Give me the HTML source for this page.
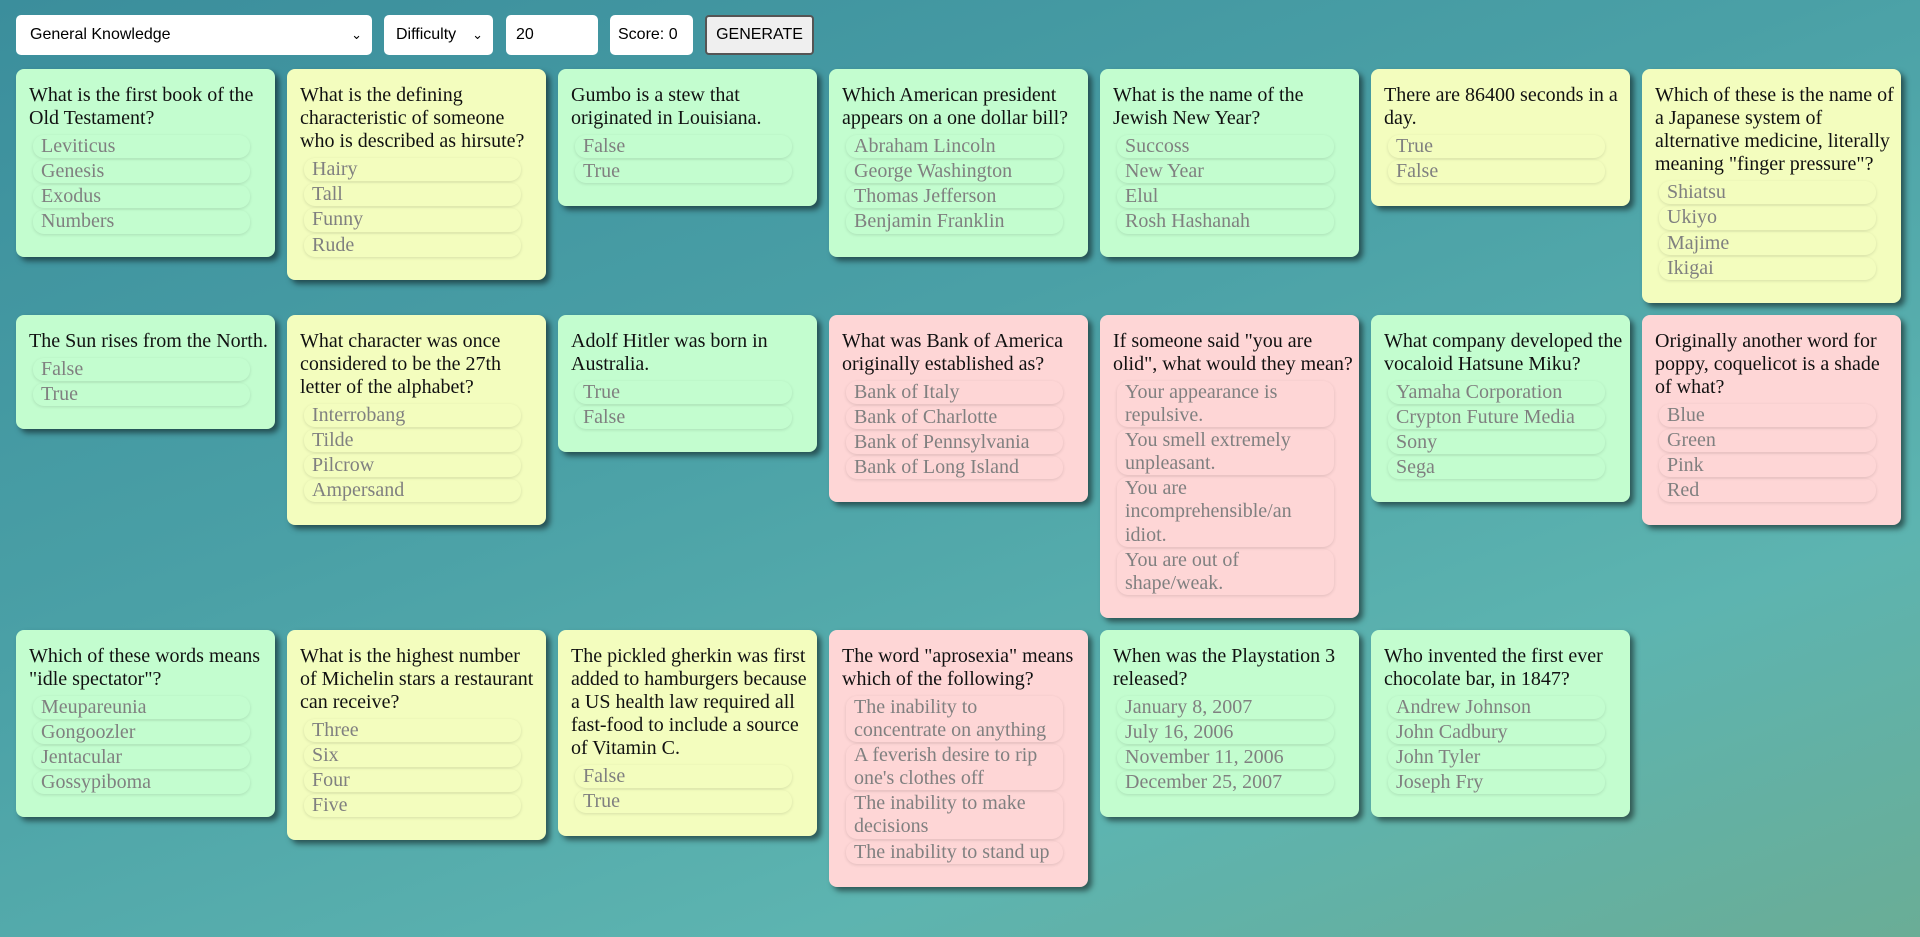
<!DOCTYPE html>
<html><head><meta charset="utf-8"><style>
html,body{margin:0;padding:0}
body{width:1920px;height:937px;overflow:hidden;background:linear-gradient(160deg,#3b8e9c 0%,#4aa0a6 40%,#5db4b0 75%,#6aad96 100%);font-family:"Liberation Serif",serif;}
.c{position:absolute;top:15px;height:40px;background:#fff;border-radius:5px;font-family:"Liberation Sans",sans-serif;font-size:16px;line-height:40px;box-sizing:border-box;padding-left:14px;color:#000}
.c .ar{position:absolute;right:10px;top:0;font-size:13px}
.btn{background:#efefef;border:2px solid #555;border-radius:4px;padding:0;text-align:center;line-height:36px}
.grid{position:absolute;left:16px;top:69px;width:1900px;display:flex;flex-wrap:wrap;align-items:flex-start;column-gap:12px;row-gap:12px}
.card{width:259px;box-sizing:border-box;padding:15px 4px 21px 13px;border-radius:8px;box-shadow:4px 4px 6px rgba(0,0,0,.5);font-size:20px;line-height:23.1px;color:#111}
.g{background:#c3fdcf}.y{background:#f3fdbe}.p{background:#fed6d6}
.q{margin-bottom:5px}
.a{width:217px;margin-left:4px;margin-bottom:2px;box-sizing:border-box;padding-left:8px;padding-right:4px;border-radius:11px;box-shadow:0 1px 3px rgba(0,0,0,.12);color:#808080}
</style></head><body>
<div class="c" style="left:16px;width:356px">General Knowledge<span class="ar">&#8964;</span></div>
<div class="c" style="left:384px;width:109px;padding-left:12px">Difficulty<span class="ar">&#8964;</span></div>
<div class="c" style="left:506px;width:92px;padding-left:10px">20</div>
<div class="c" style="left:610px;width:83px;padding-left:8px">Score: 0</div>
<div class="c btn" style="left:705px;width:109px">GENERATE</div>
<div class="grid">
<div class="card g"><div class="q">What is the first book of the Old Testament?</div><div class="a">Leviticus</div><div class="a">Genesis</div><div class="a">Exodus</div><div class="a">Numbers</div></div>
<div class="card y"><div class="q">What is the defining characteristic of someone who is described as hirsute?</div><div class="a">Hairy</div><div class="a">Tall</div><div class="a">Funny</div><div class="a">Rude</div></div>
<div class="card g"><div class="q">Gumbo is a stew that originated in Louisiana.</div><div class="a">False</div><div class="a">True</div></div>
<div class="card g"><div class="q">Which American president appears on a one dollar bill?</div><div class="a">Abraham Lincoln</div><div class="a">George Washington</div><div class="a">Thomas Jefferson</div><div class="a">Benjamin Franklin</div></div>
<div class="card g"><div class="q">What is the name of the Jewish New Year?</div><div class="a">Succoss</div><div class="a">New Year</div><div class="a">Elul</div><div class="a">Rosh Hashanah</div></div>
<div class="card y"><div class="q">There are 86400 seconds in a day.</div><div class="a">True</div><div class="a">False</div></div>
<div class="card y"><div class="q">Which of these is the name of a Japanese system of alternative medicine, literally meaning "finger pressure"?</div><div class="a">Shiatsu</div><div class="a">Ukiyo</div><div class="a">Majime</div><div class="a">Ikigai</div></div>

<div class="card g"><div class="q">The Sun rises from the North.</div><div class="a">False</div><div class="a">True</div></div>
<div class="card y"><div class="q">What character was once considered to be the 27th letter of the alphabet?</div><div class="a">Interrobang</div><div class="a">Tilde</div><div class="a">Pilcrow</div><div class="a">Ampersand</div></div>
<div class="card g"><div class="q">Adolf Hitler was born in Australia.</div><div class="a">True</div><div class="a">False</div></div>
<div class="card p"><div class="q">What was Bank of America originally established as?</div><div class="a">Bank of Italy</div><div class="a">Bank of Charlotte</div><div class="a">Bank of Pennsylvania</div><div class="a">Bank of Long Island</div></div>
<div class="card p"><div class="q">If someone said "you are olid", what would they mean?</div><div class="a">Your appearance is repulsive.</div><div class="a">You smell extremely unpleasant.</div><div class="a">You are incomprehensible/an idiot.</div><div class="a">You are out of shape/weak.</div></div>
<div class="card g"><div class="q">What company developed the vocaloid Hatsune Miku?</div><div class="a">Yamaha Corporation</div><div class="a">Crypton Future Media</div><div class="a">Sony</div><div class="a">Sega</div></div>
<div class="card p"><div class="q">Originally another word for poppy, coquelicot is a shade of what?</div><div class="a">Blue</div><div class="a">Green</div><div class="a">Pink</div><div class="a">Red</div></div>

<div class="card g"><div class="q">Which of these words means "idle spectator"?</div><div class="a">Meupareunia</div><div class="a">Gongoozler</div><div class="a">Jentacular</div><div class="a">Gossypiboma</div></div>
<div class="card y"><div class="q">What is the highest number<br>of Michelin stars a restaurant can receive?</div><div class="a">Three</div><div class="a">Six</div><div class="a">Four</div><div class="a">Five</div></div>
<div class="card y"><div class="q">The pickled gherkin was first added to hamburgers because a US health law required all fast-food to include a source of Vitamin C.</div><div class="a">False</div><div class="a">True</div></div>
<div class="card p"><div class="q">The word "aprosexia" means which of the following?</div><div class="a">The inability to concentrate on anything</div><div class="a">A feverish desire to rip one's clothes off</div><div class="a">The inability to make decisions</div><div class="a">The inability to stand up</div></div>
<div class="card g"><div class="q">When was the Playstation 3 released?</div><div class="a">January 8, 2007</div><div class="a">July 16, 2006</div><div class="a">November 11, 2006</div><div class="a">December 25, 2007</div></div>
<div class="card g"><div class="q">Who invented the first ever chocolate bar, in 1847?</div><div class="a">Andrew Johnson</div><div class="a">John Cadbury</div><div class="a">John Tyler</div><div class="a">Joseph Fry</div></div>
</div>
</body></html>
